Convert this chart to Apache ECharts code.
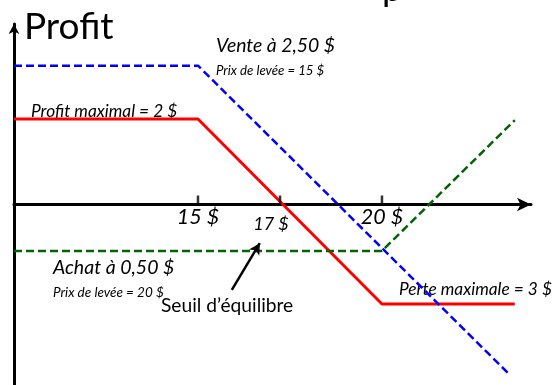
<!DOCTYPE html>
<html>
<head>
<meta charset="utf-8">
<script src="https://cdn.jsdelivr.net/npm/echarts@6/dist/echarts.min.js"></script>
<style>
  html, body { margin: 0; padding: 0; background: #ffffff; }
  #chart { width: 554px; height: 385px; }
</style>
</head>
<body>
<div id="chart"></div>
<script>
// ---- data ----
// x = share price ($), y = profit ($) as drawn (the sketch is not exactly to scale)
const venteX = [10, 15, 23.42];          // short call, strike 15, premium 2.50
const venteY = [3.77, 3.77, -4.57];
const achatX = [10, 20, 23.61];          // long call, strike 20, premium 0.50
const achatY = [-1.26, -1.26, 2.29];
const spreadX = [10, 15, 20, 23.61];     // combined position
const spreadY = [2.32, 2.32, -2.70, -2.70];
const xTickValues = [15, 17.23, 20];
const xTickLabels = ['15 $', '17 $', '20 $'];
const arrowFrom = [15.92, -2.32];        // "Seuil d'équilibre" pointer
const arrowTo = [16.68, -1.05];

const pairs = (xs, ys) => xs.map((x, i) => [x, ys[i]]);
const FONT = 'Lato, "Open Sans", sans-serif';

// label styling per tick (index 1 = break-even label, smaller and lower)
const tickLabelOffset = [[0, 13], [-9, 20], [0, 13]];

const chart = echarts.init(document.getElementById('chart'), null, { renderer: 'canvas' });

const option = {
  animation: false,
  backgroundColor: '#ffffff',
  grid: { left: 14, right: 23, top: 24, bottom: 0, containLabel: false, outerBoundsMode: 'none' },
  xAxis: {
    type: 'value',
    min: 10,
    max: 24.05,
    splitLine: { show: false },
    axisLine: {
      onZero: true,
      symbol: ['none', 'arrow'],
      symbolSize: [10, 14],
      lineStyle: { color: '#000', width: 3 }
    },
    axisTick: { show: false },
    axisLabel: { show: false }
  },
  yAxis: {
    type: 'value',
    min: -4.9,
    max: 4.9,
    splitLine: { show: false },
    axisLine: {
      onZero: false,
      symbol: ['none', 'arrow'],
      symbolSize: [8, 10],
      lineStyle: { color: '#000', width: 3 }
    },
    axisTick: { show: false },
    axisLabel: { show: false }
  },
  series: [
    {
      name: 'Position',
      type: 'line',
      data: pairs(spreadX, spreadY),
      symbol: 'none',
      lineStyle: { color: '#ff0000', width: 3 },
      z: 2,
      markLine: {
        silent: true,
        symbol: ['none', 'arrow'],
        symbolSize: [9, 11],
        label: { show: false },
        lineStyle: { color: '#000', width: 2.5, type: 'solid' },
        data: [[{ coord: arrowFrom }, { coord: arrowTo }]]
      }
    },
    {
      name: 'Achat',
      type: 'line',
      data: pairs(achatX, achatY),
      symbol: 'none',
      lineStyle: { color: '#006400', width: 2.5, type: [8, 4] },
      z: 3
    },
    {
      name: 'Vente',
      type: 'line',
      data: pairs(venteX, venteY),
      symbol: 'none',
      lineStyle: { color: '#0000ff', width: 2.5, type: [8, 4] },
      z: 4
    },
    {
      // tick marks on the price axis
      name: 'ticks',
      type: 'scatter',
      silent: true,
      data: xTickValues.map(v => [v, 0]),
      symbol: 'rect',
      symbolSize: [2.5, 9],
      symbolOffset: [0, -4.5],
      itemStyle: { color: '#000' },
      z: 5
    },
    {
      // tick labels on the price axis
      name: 'tickLabels',
      type: 'scatter',
      silent: true,
      symbolSize: 0,
      itemStyle: { color: '#000', opacity: 1 },
      data: xTickValues.map((v, i) => ({
        value: [v, 0],
        label: { offset: tickLabelOffset[i] }
      })),
      label: {
        show: true,
        position: 'inside',
        color: '#000',
        opacity: 1,
        textBorderWidth: 0,
        formatter: function (p) {
          return (p.dataIndex === 1 ? '{s|' : '{b|') + xTickLabels[p.dataIndex] + '}';
        },
        rich: {
          b: { fontSize: 21.5, fontStyle: 'italic', fontFamily: FONT, color: '#000' },
          s: { fontSize: 18, fontStyle: 'italic', fontFamily: FONT, color: '#000' }
        }
      },
      emphasis: { disabled: true },
      z: 5
    }
  ],
  graphic: [
    { type: 'text', left: 24, top: 9, style: { text: 'Profit', font: '37px ' + FONT, fill: '#000' } },
    { type: 'text', x: 382, y: -29, style: { text: 'p', font: '36px ' + FONT, fill: '#000' } },
    { type: 'text', left: 216, top: 36, style: { text: 'Vente à 2,50 $', font: 'italic 19.4px ' + FONT, fill: '#000' } },
    { type: 'text', left: 216, top: 64, style: { text: 'Prix de levée = 15 $', font: 'italic 13.2px ' + FONT, fill: '#000' } },
    { type: 'text', left: 31, top: 102.5, style: { text: 'Profit maximal = 2 $', font: 'italic 17.3px ' + FONT, fill: '#000' } },
    { type: 'text', left: 53, top: 258, style: { text: 'Achat à 0,50 $', font: 'italic 19.5px ' + FONT, fill: '#000' } },
    { type: 'text', left: 53, top: 286, style: { text: 'Prix de levée = 20 $', font: 'italic 13.5px ' + FONT, fill: '#000' } },
    { type: 'text', left: 161, top: 296, style: { text: 'Seuil d’équilibre', font: '19.2px ' + FONT, fill: '#000' } },
    { type: 'text', left: 399, top: 280.5, style: { text: 'Perte maximale = 3 $', font: 'italic 17.3px ' + FONT, fill: '#000' } }
  ]
};

chart.setOption(option);
</script>
</body>
</html>
